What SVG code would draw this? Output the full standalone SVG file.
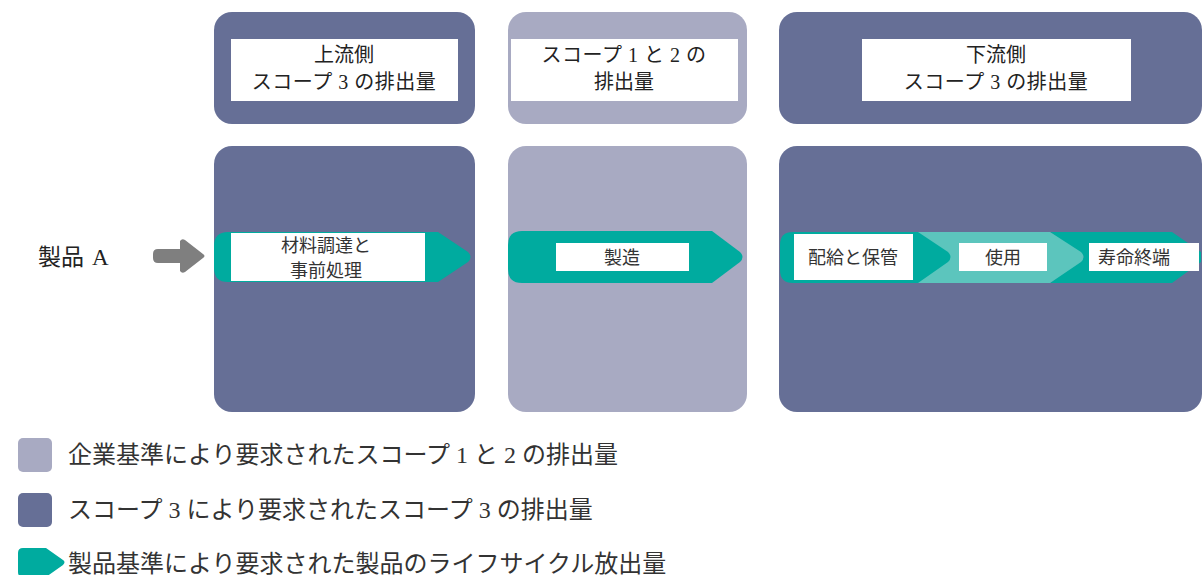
<svg xmlns="http://www.w3.org/2000/svg" width="1202" height="575" viewBox="0 0 1202 575">
<style>
.dark{fill:#666f96}
.light{fill:#a8aac2}
.teal{fill:#00ab9f}
.lteal{fill:#5cc5bd}
.wb{fill:#ffffff}
.ser{font-family:"Liberation Serif","Noto Sans CJK JP",serif;fill:#222;text-anchor:middle}
.sans{font-family:"Noto Sans CJK JP","Liberation Sans",sans-serif;fill:#333;text-anchor:middle;font-size:18px}
.leg{font-family:"Liberation Serif","Noto Sans CJK JP",serif;fill:#333;font-size:24px}
</style>
<rect width="1202" height="575" fill="#ffffff"/>
<g id="upstream-header">
<rect class="dark" x="214" y="12" width="261" height="112" rx="18"/>
<rect class="wb" x="231" y="39" width="227" height="62"/>
<text class="ser" x="344" y="62" font-size="20">上流側</text>
<text class="ser" x="344" y="89" font-size="20" letter-spacing="0.5">スコープ 3  の排出量</text>
</g>
<g id="scope12-header">
<rect class="light" x="508" y="12" width="239" height="112" rx="18"/>
<rect class="wb" x="511" y="39" width="227" height="62"/>
<text class="ser" x="624" y="62" font-size="20" letter-spacing="0.5">スコープ 1 と 2 の</text>
<text class="ser" x="624" y="89" font-size="20">排出量</text>
</g>
<g id="downstream-header">
<rect class="dark" x="779" y="12" width="423" height="112" rx="18"/>
<rect class="wb" x="862" y="39" width="269" height="62"/>
<text class="ser" x="996" y="62" font-size="20">下流側</text>
<text class="ser" x="996" y="89" font-size="20" letter-spacing="0.5">スコープ 3 の排出量</text>
</g>
<g id="upstream-body">
<rect class="dark" x="214" y="146" width="261" height="266" rx="18"/>
</g>
<g id="scope12-body">
<rect class="light" x="508" y="146" width="239" height="266" rx="18"/>
</g>
<g id="downstream-body">
<rect class="dark" x="779" y="146" width="423" height="266" rx="18"/>
</g>
<g id="product-a">
<text font-family="Liberation Serif, Noto Sans CJK JP, serif" fill="#222" x="38" y="265" font-size="23">製品<tspan dx="8">A</tspan></text>
</g>
<g id="connectors">
<path d="M158 249 H180 V241 Q182 238 185 240 L203 254 Q206 256 203 258 L185 272 Q182 274 180 271 V263 H158 Q153 263 153 258 V254 Q153 249 158 249 Z" fill="#7f7f7f"/>
</g>
<g id="procurement">
<path class="teal" d="M228 232 H438 L468 252 Q473 257 468 262 L438 282 H228 Q214 282 214 268 V246 Q214 232 228 232 Z"/>
<rect class="wb" x="231" y="233" width="194" height="48"/>
<text class="sans" x="326" y="252" font-size="17">材料調達と</text>
<text class="sans" x="326" y="277" font-size="17">事前処理</text>
</g>
<g id="manufacturing">
<path class="teal" d="M522 231 H712 L740 252 Q745 257 740 262 L712 283 H522 Q508 283 508 269 V245 Q508 231 522 231 Z"/>
<rect class="wb" x="556" y="243" width="133" height="28"/>
<text class="sans" x="622" y="264">製造</text>
</g>
<g id="distribution">
<path class="teal" d="M793 232 H920 L950 252 Q955 257 950 262 L920 283 H793 Q780 283 780 270 V245 Q780 232 793 232 Z"/>
<rect class="wb" x="794" y="234" width="119" height="46"/>
<text class="sans" x="853" y="264">配給と保管</text>
</g>
<g id="end-of-life">
<path class="teal" d="M1050 232 H1172 L1201 252 L1201 262 L1172 283 H1050 L1082 259 Q1085 257 1082 255 Z"/>
<rect class="wb" x="1089" y="243" width="110" height="28"/>
<text class="sans" x="1134" y="264">寿命終端</text>
</g>
<g id="use">
<path class="lteal" d="M918 232 H1050 L1081 252 Q1086 257 1081 262 L1050 283 H918 L948 262 Q953 257 948 252 Z"/>
<rect class="wb" x="959" y="243" width="88" height="28"/>
<text class="sans" x="1003" y="264">使用</text>
</g>
<g id="legend-scope12">
<rect class="light" x="18" y="438" width="34" height="34" rx="5"/>
<text class="leg" x="68" y="463">企業基準により要求されたスコープ 1 と 2 の排出量</text>
</g>
<g id="legend-scope3">
<rect class="dark" x="18" y="493" width="34" height="34" rx="5"/>
<text class="leg" x="68" y="518">スコープ 3 により要求されたスコープ 3 の排出量</text>
</g>
<g id="legend-product">
<path class="teal" d="M23 548 H46 L63 560 Q66 562 63 565 L46 577 H23 Q18 577 18 572 V553 Q18 548 23 548 Z"/>
<text class="leg" x="68" y="572">製品基準により要求された製品のライフサイクル放出量</text>
</g>
</svg>
